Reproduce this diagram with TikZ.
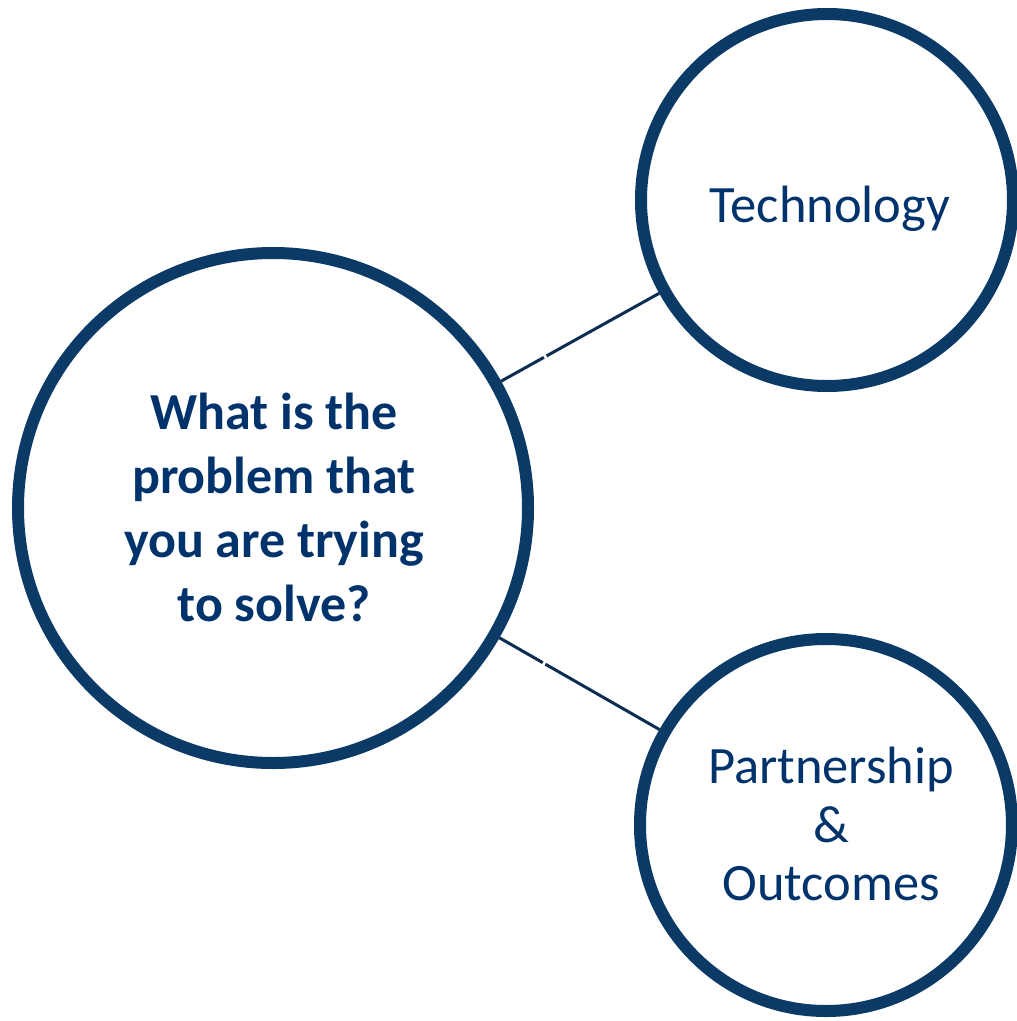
\documentclass[tikz,border=0pt]{standalone}
\usepackage{fontspec}
\setmainfont{Carlito}
\usetikzlibrary{calc}
\definecolor{ringblue}{RGB}{11,58,102}
\definecolor{textblue}{RGB}{0,51,108}
\definecolor{lineblue}{RGB}{12,45,82}
\begin{document}
\begin{tikzpicture}[x=1pt,y=-1pt,
  ring/.style={circle,draw=ringblue,line width=12pt,inner sep=0pt},
  link/.style={draw=lineblue,line width=3pt},
  bigtext/.style={text=textblue,align=center,font=\fontsize{52}{64}\selectfont\bfseries},
  smalltext/.style={text=textblue,align=center,font=\fontsize{52.5}{58.5}\selectfont}]
\useasboundingbox[fill=white] (0,0) rectangle (1017,1021);
\node[ring,minimum size=510pt] (big) at (273,508) {};
\node[ring,minimum size=372pt] (tech) at (827,200) {};
\node[ring,minimum size=372pt] (part) at (826,825) {};
\node[bigtext] (bigtxt) at (274,507) {What is the\\problem that\\you are trying\\to solve?};
\node[smalltext,anchor=base] (techtxt) at (830,222) {Technology};
\node[smalltext] (parttxt) at (831,824) {Partnership\\\&\\Outcomes};
\coordinate (g1a) at ($(big)!310pt!(tech)$);
\coordinate (g1b) at ($(big)!313pt!(tech)$);
\coordinate (g2a) at ($(big)!311pt!(part)$);
\coordinate (g2b) at ($(big)!314pt!(part)$);
\draw[link] (big) -- (g1a);
\draw[link] (g1b) -- (tech);
\draw[link] (big) -- (g2a);
\draw[link] (g2b) -- (part);
\end{tikzpicture}
\end{document}
